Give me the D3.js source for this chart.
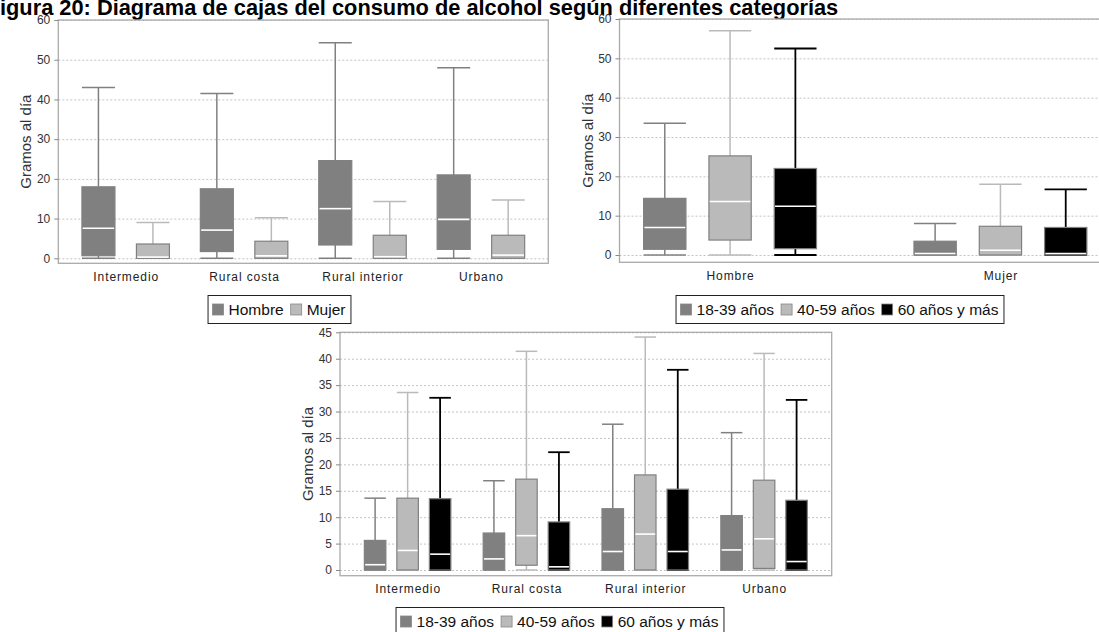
<!DOCTYPE html>
<html>
<head>
<meta charset="utf-8">
<script src="https://cdn.jsdelivr.net/npm/d3@7"></script>
<style>
  html, body { margin: 0; padding: 0; background: #fff; overflow: hidden; }
  svg { display: block; font-family: "Liberation Sans", Arial, Helvetica, sans-serif; }
</style>
</head>
<body>
<svg id="fig" width="1099" height="632"></svg>
<script>
// ---- data ---------------------------------------------------------------
const titulo = "Figura 20: Diagrama de cajas del consumo de alcohol según diferentes categorías";
const ejeY = "Gramos al día";
const zonas = ["Intermedio", "Rural costa", "Rural interior", "Urbano"];
const sexos = ["Hombre", "Mujer"];
const edades = ["18-39 años", "40-59 años", "60 años y más"];

// each box: [lower whisker, Q1, median, Q3, upper whisker], grams per day
const zonaHombre = [[0, 0.65, 7.55, 18.0, 43.0], [0, 1.7, 7.1, 17.5, 41.5], [0, 3.35, 12.5, 24.6, 54.3], [0, 2.25, 9.8, 21.0, 48.0]];
const zonaMujer  = [[0, 0, 0.3, 3.6, 9.0], [0, 0, 0.6, 4.3, 10.2], [0, 0, 0.4, 5.8, 14.3], [0, 0, 0.8, 5.8, 14.7]];

const sexo18a39 = [[0, 1.45, 7.0, 14.4, 33.5], [0, 0, 0.4, 3.5, 8.0]];
const sexo40a59 = [[0, 3.8, 13.6, 25.2, 57.0], [0, 0, 1.2, 7.3, 18.0]];
const sexo60mas = [[0, 1.6, 12.4, 22.0, 52.5], [0, 0, 0.4, 7.0, 16.7]];

const zona18a39 = [[0, 0, 1.0, 5.6, 13.6], [0, 0, 2.1, 7.0, 16.9], [0, 0, 3.5, 11.6, 27.6], [0, 0, 3.8, 10.3, 26.0]];
const zona40a59 = [[0, 0, 3.7, 13.6, 33.6], [0, 0.9, 6.5, 17.2, 41.4], [0, 0, 6.8, 18.0, 44.1], [0, 0.3, 5.9, 17.0, 41.0]];
const zona60mas = [[0, 0, 3.0, 13.5, 32.6], [0, 0, 0.6, 9.1, 22.3], [0, 0, 3.5, 15.3, 37.9], [0, 0, 1.6, 13.2, 32.2]];

const ticks60 = [0, 10, 20, 30, 40, 50, 60];
const ticks45 = [0, 5, 10, 15, 20, 25, 30, 35, 40, 45];

// ---- styling -------------------------------------------------------------
const colores = ["#808080", "#bababa", "#000000"];
const bordeCaja = "#808080";
const svg = d3.select("#fig");

// title: the first letter sits just outside the left edge
const tituloSize = 21.8;
svg.append("text")
  .attr("x", -0.611 * tituloSize)
  .attr("y", 15)
  .attr("font-size", tituloSize)
  .attr("font-weight", "bold")
  .attr("fill", "#000")
  .text(titulo);

const paneles = [
  { cats: zonas, series: [zonaHombre, zonaMujer], names: sexos, ticks: ticks60,
    left: 58.3, right: 548.3, top: 20, zero: 258.3, bottom: 263.3, pad: 0.569,
    boxW: 33, off: 54.5, legendCx: 279, legendTop: 295 },
  { cats: sexos, series: [sexo18a39, sexo40a59, sexo60mas], names: edades, ticks: ticks60,
    left: 619.5, right: 1111, top: 19, zero: 255, bottom: 262.3, pad: 0.409,
    boxW: 42.3, off: 65.3, legendCx: 839.5, legendTop: 295 },
  { cats: zonas, series: [zona18a39, zona40a59, zona60mas], names: edades, ticks: ticks45,
    left: 340, right: 831.7, top: 332.3, zero: 570, bottom: 575.7, pad: 0.569,
    boxW: 21.5, off: 32.5, legendCx: 559.5, legendTop: 607 }
];

function dibujarPanel(p) {
  const g = svg.append("g");
  const n = p.series.length;
  const x = d3.scalePoint().domain(p.cats).range([p.left, p.right]).padding(p.pad);
  const span = (n - 1) * p.off + p.boxW;
  const s = d3.scaleBand().domain(d3.range(n)).range([-span / 2, span / 2])
    .paddingInner(1 - p.boxW / p.off).paddingOuter(0);
  const y = d3.scaleLinear().domain([0, d3.max(p.ticks)]).range([p.zero, p.top]);
  const w = p.right - p.left;

  // background and dashed grid
  g.append("rect").attr("x", p.left).attr("y", p.top).attr("width", w)
    .attr("height", p.bottom - p.top).attr("fill", "#fff");
  const grid = g.append("g").attr("transform", `translate(${p.left},0)`)
    .call(d3.axisLeft(y).tickValues(p.ticks).tickSize(-w).tickFormat(""));
  grid.select(".domain").remove();
  grid.selectAll("line").attr("stroke", "#c4c4c4").attr("stroke-width", 1)
    .attr("stroke-dasharray", "2,2");

  // boxes
  p.series.forEach((serie, i) => {
    const col = colores[i];
    serie.forEach((d, j) => {
      const [lo, q1, med, q3, hi] = d;
      const cx = x(p.cats[j]) + s(i) + p.boxW / 2;
      const x0 = cx - p.boxW / 2, x1 = cx + p.boxW / 2;
      const wk = g.append("g").attr("stroke", col).attr("stroke-width", i === 2 ? 1.8 : 1.5);
      wk.append("line").attr("x1", cx).attr("x2", cx).attr("y1", y(q3)).attr("y2", y(hi));
      wk.append("line").attr("x1", x0).attr("x2", x1).attr("y1", y(hi)).attr("y2", y(hi));
      wk.append("line").attr("x1", cx).attr("x2", cx).attr("y1", y(q1)).attr("y2", y(lo));
      wk.append("line").attr("x1", x0).attr("x2", x1).attr("y1", y(lo)).attr("y2", y(lo));
      g.append("rect").attr("x", x0).attr("y", y(q3)).attr("width", p.boxW)
        .attr("height", Math.max(0, y(q1) - y(q3)))
        .attr("fill", col).attr("stroke", bordeCaja).attr("stroke-width", 1.2);
      g.append("line").attr("x1", x0 + 0.8).attr("x2", x1 - 0.8)
        .attr("y1", y(med)).attr("y2", y(med))
        .attr("stroke", "#fff").attr("stroke-width", 1.6);
    });
  });

  // plot frame
  g.append("rect").attr("x", p.left).attr("y", p.top).attr("width", w)
    .attr("height", p.bottom - p.top).attr("fill", "none")
    .attr("stroke", "#aaaaaa").attr("stroke-width", 1.3);

  // y axis
  const ay = g.append("g").attr("transform", `translate(${p.left},0)`)
    .call(d3.axisLeft(y).tickValues(p.ticks).tickSize(4).tickPadding(4));
  ay.select(".domain").remove();
  ay.selectAll("line").attr("stroke", "#888");
  ay.selectAll("text").attr("font-size", 12).attr("fill", "#333")
    .attr("font-family", null);

  g.append("text")
    .attr("transform", `translate(${p.left - 27},${(p.top + p.bottom) / 2}) rotate(-90)`)
    .attr("text-anchor", "middle").attr("font-size", 15).attr("fill", "#333")
    .text(ejeY);

  // category axis
  const ax = g.append("g").attr("transform", `translate(0,${p.bottom})`)
    .call(d3.axisBottom(x).tickSize(0).tickPadding(9.2));
  ax.select(".domain").remove();
  ax.selectAll("text").attr("font-size", 12).attr("fill", "#222")
    .attr("letter-spacing", "0.9px").attr("font-family", null);

  // legend
  const lg = g.append("g");
  const fs = 15.5, sq = 11, padL = 5, gapSq = 5, gapItem = 7, h = 28;
  let cursor = padL;
  p.names.forEach((name, i) => {
    const it = lg.append("g");
    it.append("rect").attr("x", cursor).attr("y", h / 2 - sq / 2 + 0.5)
      .attr("width", sq).attr("height", sq)
      .attr("fill", colores[i]).attr("stroke", "#888").attr("stroke-width", 0.8);
    const t = it.append("text").attr("x", cursor + sq + gapSq).attr("y", h / 2)
      .attr("dy", "0.36em").attr("font-size", fs).attr("fill", "#111").text(name);
    cursor += sq + gapSq + t.node().getComputedTextLength() + gapItem;
  });
  const lw = cursor - gapItem + padL;
  lg.insert("rect", ":first-child").attr("x", 0.5).attr("y", 0.5)
    .attr("width", lw).attr("height", h).attr("fill", "#fff")
    .attr("stroke", "#222").attr("stroke-width", 1);
  lg.attr("transform", `translate(${p.legendCx - lw / 2},${p.legendTop})`);
}

paneles.forEach(dibujarPanel);
</script>
</body>
</html>
